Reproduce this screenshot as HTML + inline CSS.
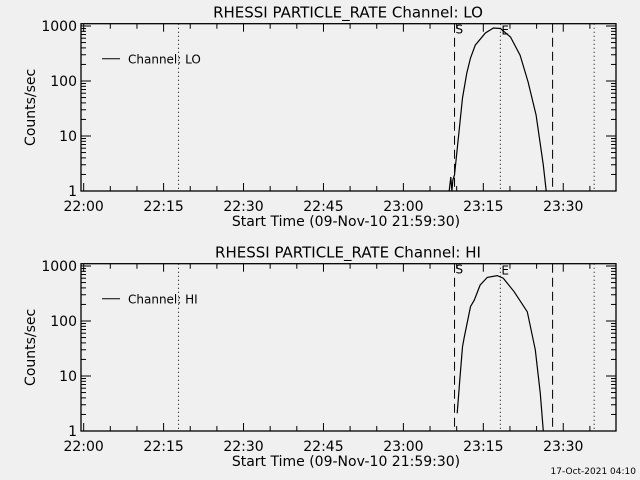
<!DOCTYPE html>
<html><head><meta charset="utf-8"><style>
html,body{margin:0;padding:0;background:#f0f0f0;}
svg{display:block;font-family:"DejaVu Sans","Liberation Sans",sans-serif;}
</style></head><body>
<svg id="c" width="640" height="480" viewBox="0 0 640 480"></svg>
<script>
const xTickLabels = ["22:00","22:15","22:30","22:45","23:00","23:15","23:30"];
const xTickMinutes = [0,15,30,45,60,75,90];
const yTickLabels = ["1","10","100","1000"];
const yTickValues = [1,10,100,1000];
const loMinutes = [68.6,68.9,69.1,69.3,69.6,70.3,71.1,71.9,72.6,73.5,75.4,76.9,78.2,80.1,81.9,83.4,84.9,86.25,86.8];
const loValues  = [1,1.8,1.0,1.6,1.95,9,49,140,262,450,745,920,900,630,295,96,24,2.97,1];
const hiMinutes = [70.1,70.6,71.1,71.4,72.6,73.3,74.4,75.75,77.6,78.75,80.8,83.25,84.75,85.7,86.25];
const hiValues  = [2.1,9,34,49,183,240,450,620,670,600,340,147,30,4.8,1];
const markerDashed = [69.6,88.0];
const markerDotted = [17.8,78.2,95.8];
const panels = [
  {name:"lo", title:"RHESSI PARTICLE_RATE Channel: LO", legend:"Channel: LO", xs:loMinutes, ys:loValues, off:0},
  {name:"hi", title:"RHESSI PARTICLE_RATE Channel: HI", legend:"Channel: HI", xs:hiMinutes, ys:hiValues, off:240}
];
const NS="http://www.w3.org/2000/svg";
const svg=document.getElementById('c');
function mk(tag,attrs,parent){const e=document.createElementNS(NS,tag);for(const k in attrs)e.setAttribute(k,attrs[k]);(parent||svg).appendChild(e);return e;}
const X0=81, X1=616, xMin=-0.5, xMax=99.9;
function xs(m){return X0+(m-xMin)/(xMax-xMin)*(X1-X0);}
panels.forEach(p=>{
  const top=23.7+p.off, bot=191+p.off;
  function ys(v){return bot-Math.log10(v)*55;}
  const g=mk('g',{});
  
  
  const t=mk('text',{x:348,y:top-6,'text-anchor':'middle','font-size':15,fill:'#000'},g);
  t.textContent=p.title;
  
  
  const box=mk('rect',{x:X0,y:top,width:X1-X0,height:bot-top,fill:'none',stroke:'#000','stroke-width':1.3},g);
  
  
  // x ticks
  for(let m=0;m<=95;m+=5){
    const x=xs(m);const len=(m%15===0)?8:5;
    mk('line',{x1:x,x2:x,y1:bot,y2:bot-len,stroke:'#000'},g);
    mk('line',{x1:x,x2:x,y1:top,y2:top+len,stroke:'#000'},g);
  }
  xTickMinutes.forEach((m,i)=>{
    const l=mk('text',{x:xs(m),y:bot+20,'text-anchor':'middle','font-size':14,fill:'#000'},g);
    l.textContent=xTickLabels[i];
    
    
  });
  // y ticks
  yTickValues.forEach((v,i)=>{
    const y=ys(v);
    mk('line',{x1:X0,x2:X0+10,y1:y,y2:y,stroke:'#000'},g);
    mk('line',{x1:X1,x2:X1-10,y1:y,y2:y,stroke:'#000'},g);
    const l=mk('text',{x:X0-4,y:y+5,'text-anchor':'end','font-size':14,fill:'#000'},g);
    l.textContent=yTickLabels[i];
    
    
    if(v<1000)for(let k=2;k<=9;k++){const yy=ys(v*k);
      mk('line',{x1:X0,x2:X0+5,y1:yy,y2:yy,stroke:'#000'},g);
      mk('line',{x1:X1,x2:X1-5,y1:yy,y2:yy,stroke:'#000'},g);}
  });
  const yt=mk('text',{transform:`translate(35,${(top+bot)/2}) rotate(-90)`,'text-anchor':'middle','font-size':14,fill:'#000'},g);
  yt.textContent='Counts/sec';
  
  
  const xt=mk('text',{x:346,y:bot+35,'text-anchor':'middle','font-size':14,fill:'#000'},g);
  xt.textContent='Start Time (09-Nov-10 21:59:30)';
  
  
  // markers
  markerDashed.forEach(m=>{const l=mk('line',{x1:xs(m),x2:xs(m),y1:top,y2:bot,stroke:'#000','stroke-dasharray':'9,5'},g);
    });
  markerDotted.forEach(m=>{const l=mk('line',{x1:xs(m),x2:xs(m),y1:top,y2:bot,stroke:'#000','stroke-dasharray':'1,3'},g);
    });
  const s=mk('text',{x:xs(markerDashed[0])+1,y:top+10,'font-size':12,fill:'#000'},g);s.textContent='S';
  
  const e=mk('text',{x:xs(markerDotted[1])+1,y:top+11,'font-size':12,fill:'#000'},g);e.textContent='E';
  
  // series
  const pts=p.xs.map((m,i)=>xs(m).toFixed(1)+','+ys(p.ys[i]).toFixed(1)).join(' ');
  const line=mk('polyline',{points:pts,fill:'none',stroke:'#000','stroke-width':1.2},g);
  
  
  // legend
  mk('line',{x1:102,x2:120,y1:top+35,y2:top+35,stroke:'#000'},g);
  const lg=mk('text',{x:128,y:top+40,'font-size':12,fill:'#000'},g);
  lg.textContent=p.legend;
  
  
});
const ts=mk('text',{x:636,y:474,'text-anchor':'end','font-size':9,fill:'#000'});
ts.textContent='17-Oct-2021 04:10';


</script>
</body></html>
